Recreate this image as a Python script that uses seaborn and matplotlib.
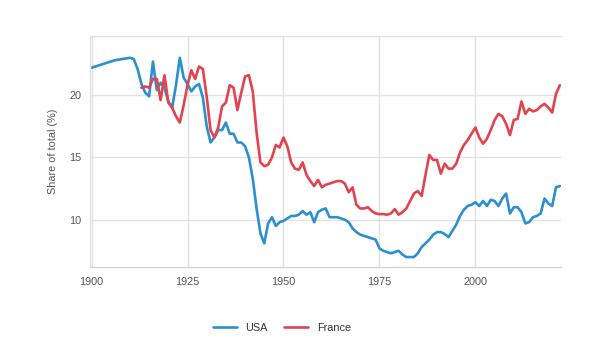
import numpy as np
import pandas as pd
import matplotlib
matplotlib.use("Agg")
import matplotlib.pyplot as plt
import seaborn as sns

usa_years = list(range(1900, 2023))
usa_values = [
    22.2, 22.3, 22.4, 22.5, 22.6, 22.7, 22.8, 22.85, 22.9, 22.95,  # 1900-1909
    23.0, 22.9, 22.1, 20.9, 20.2, 19.9, 22.7, 20.4, 21.0, 20.6,    # 1910-1919
    19.5, 19.0, 20.8, 23.0, 21.4, 20.9, 20.3, 20.7, 20.9, 19.8,    # 1920-1929
    17.5, 16.2, 16.6, 17.2, 17.2, 17.8, 16.9, 16.9, 16.2, 16.2,    # 1930-1939
    15.9, 15.0, 13.3, 10.9, 8.9, 8.1, 9.7, 10.2, 9.5, 9.8,         # 1940-1949
    9.9, 10.1, 10.3, 10.3, 10.4, 10.7, 10.4, 10.6, 9.8, 10.6,      # 1950-1959
    10.8, 10.9, 10.2, 10.2, 10.2, 10.1, 10.0, 9.8, 9.3, 9.0,       # 1960-1969
    8.8, 8.7, 8.6, 8.5, 8.4, 7.7, 7.5, 7.4, 7.3, 7.4,              # 1970-1979
    7.5, 7.2, 7.0, 7.0, 7.0, 7.3, 7.8, 8.1, 8.4, 8.8,              # 1980-1989
    9.0, 9.0, 8.85, 8.6, 9.1, 9.6, 10.3, 10.8, 11.1, 11.2,         # 1990-1999
    11.4, 11.1, 11.5, 11.1, 11.6, 11.5, 11.1, 11.7, 12.1, 10.5,    # 2000-2009
    11.0, 11.0, 10.6, 9.7, 9.8, 10.2, 10.3, 10.5, 11.7, 11.3,      # 2010-2019
    11.1, 12.6, 12.7,                                              # 2020-2022
]

france_years = list(range(1913, 2023))
france_values = [
    20.6, 20.7, 20.6, 21.3, 21.3, 19.6, 21.6,                      # 1913-1919
    19.4, 19.0, 18.3, 17.8, 19.2, 20.8, 22.0, 21.3, 22.3, 22.1,    # 1920-1929
    19.9, 17.2, 16.6, 17.4, 19.1, 19.4, 20.8, 20.6, 18.8, 20.2,    # 1930-1939
    21.5, 21.6, 20.3, 17.0, 14.6, 14.3, 14.4, 15.0, 16.0, 15.8,    # 1940-1949
    16.6, 15.9, 14.6, 14.1, 14.0, 14.6, 13.6, 13.1, 12.7, 13.2,    # 1950-1959
    12.6, 12.8, 12.9, 13.0, 13.1, 13.1, 12.9, 12.2, 12.6, 11.2,    # 1960-1969
    10.9, 10.9, 11.0, 10.7, 10.5, 10.45, 10.45, 10.4, 10.5, 10.85, # 1970-1979
    10.4, 10.6, 10.9, 11.5, 12.1, 12.3, 11.9, 13.6, 15.2, 14.8,    # 1980-1989
    14.8, 13.7, 14.5, 14.1, 14.1, 14.5, 15.4, 16.0, 16.4, 16.9,    # 1990-1999
    17.4, 16.6, 16.1, 16.5, 17.2, 18.0, 18.5, 18.3, 17.7, 16.8,    # 2000-2009
    18.0, 18.1, 19.5, 18.5, 18.9, 18.7, 18.8, 19.1, 19.3, 19.0,    # 2010-2019
    18.6, 20.1, 20.8,                                              # 2020-2022
]

series_names = ["USA", "France"]
x_ticks = [1900, 1925, 1950, 1975, 2000]
y_ticks = [10, 15, 20]
y_label = "Share of total (%)"

df = pd.concat([
    pd.DataFrame({"year": usa_years, "share": usa_values, "country": series_names[0]}),
    pd.DataFrame({"year": france_years, "share": france_values, "country": series_names[1]}),
], ignore_index=True)

sns.set_theme(style="white")
plt.rcParams["font.family"] = ["Liberation Sans", "DejaVu Sans"]

fig = plt.figure(figsize=(6.0, 3.38), dpi=100)
ax = fig.add_axes([90 / 600, 1 - 267 / 338, (561 - 90) / 600, (267 - 36) / 338])

palette = {"USA": "#2b8fd0", "France": "#e2434f"}
sns.lineplot(data=df, x="year", y="share", hue="country", palette=palette,
             linewidth=1.9, ax=ax, legend=False)

ax.set_xlim(1899.6, 2022.3)
ax.set_ylim(6.2, 24.75)
ax.set_xticks(x_ticks)
ax.set_yticks(y_ticks)
ax.grid(True, color="#e3e3e3", linewidth=1.0)
ax.set_axisbelow(True)
for side in ["top", "left"]:
    ax.spines[side].set_color("#e3e3e3")
    ax.spines[side].set_linewidth(1.0)
ax.spines["right"].set_visible(False)
ax.spines["bottom"].set_color("#d6d6d6")
ax.spines["bottom"].set_linewidth(1.0)
ax.tick_params(axis="both", labelsize=7.8, colors="#555555", length=0, pad=6)
ax.tick_params(axis="x", length=4, color="#dddddd", width=1.0, pad=3)
ax.set_xlabel("")
ax.set_ylabel(y_label, fontsize=7.8, color="#555555", labelpad=8)

handles = [plt.Line2D([0], [0], color=palette[n], linewidth=1.9) for n in series_names]
fig.legend(handles, series_names, loc="center", bbox_to_anchor=(0.47, 0.03),
           ncol=2, frameon=False, fontsize=7.8, handlelength=2.2,
           columnspacing=1.5, labelcolor="#333333")

fig.savefig("out.png", dpi=100)
